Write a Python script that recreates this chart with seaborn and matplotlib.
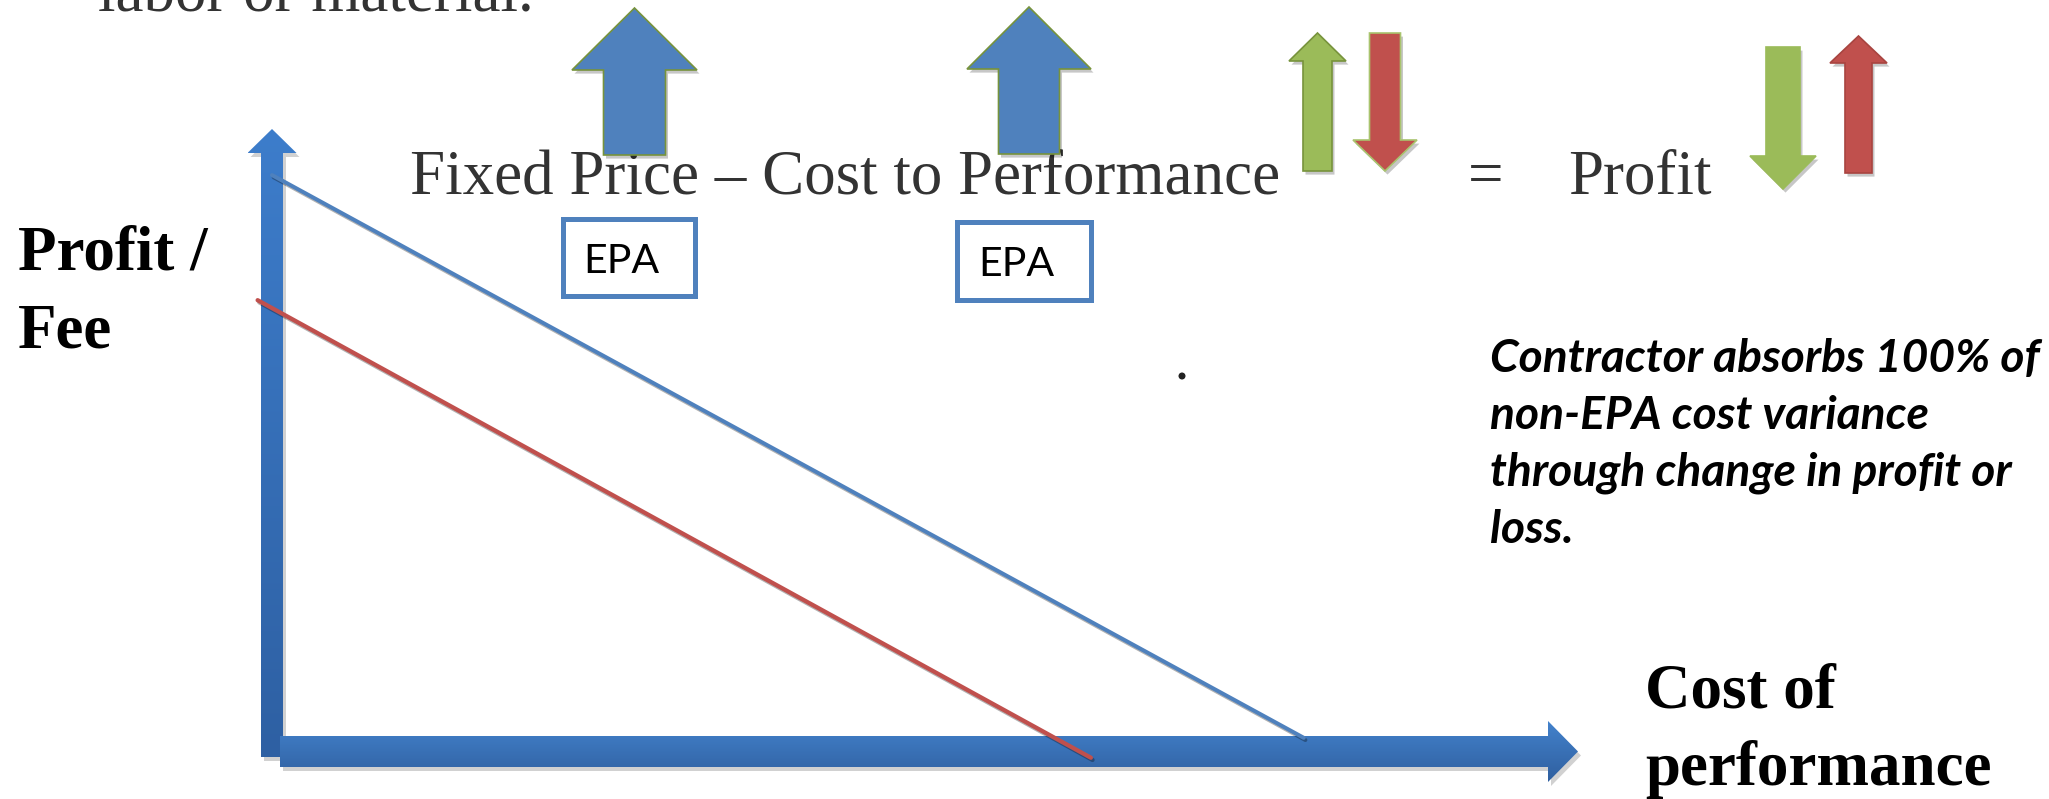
import numpy as np
import matplotlib
matplotlib.use("Agg")
import matplotlib.pyplot as plt
import matplotlib.patheffects as pe
from matplotlib.patches import Polygon, Rectangle, Circle
from matplotlib.colors import LinearSegmentedColormap
import seaborn as sns

# Profit / fee against cost of performance (arbitrary units, 0-100 on both axes)
fixed_price_cost = [0.0, 79.0]
fixed_price_profit = [92.6, 2.2]
overrun_cost = [-1.1, 62.7]
overrun_profit = [72.5, -1.0]

y_label_lines = ["Profit /", "Fee"]
x_label_lines = ["Cost of", "performance"]
equation_left = "Fixed Price \u2013 Cost to Performance"
equation_sign = "="
equation_right = "Profit"
box_label = "EPA"
note_lines = ["Contractor absorbs 100% of",
              "non-EPA cost variance",
              "through change in profit or",
              "loss."]
heading_tail = "labor or material."

BLUE = "#4F81BD"
GREEN = "#9BBB59"
RED = "#C0504D"
OLIVE = "#77933C"
TEXT_GRAY = "#333333"

W, H, DPI = 2049, 799, 100

sns.set_theme(style="white")
plt.rcParams["font.family"] = ["Liberation Serif", "DejaVu Serif"]


def pt(pixels):
    """Convert a length in pixels to points."""
    return pixels * 72.0 / DPI


fig = plt.figure(figsize=(W / DPI, H / DPI), dpi=DPI)
fig.patch.set_facecolor("white")

# Full-figure canvas in pixel units for the decorative shapes and text
canvas = fig.add_axes([0, 0, 1, 1])
canvas.set_xlim(0, W)
canvas.set_ylim(H, 0)
canvas.axis("off")

shadow = [pe.SimplePatchShadow(offset=(1.8, -2.6), shadow_rgbFace="black", alpha=0.22),
          pe.Normal()]


def vertical_block_arrow(cx, tip, head_base, end, head_half, shaft_half,
                         face, edge=None, lw=1.2):
    pts = [(cx, tip), (cx + head_half, head_base), (cx + shaft_half, head_base),
           (cx + shaft_half, end), (cx - shaft_half, end),
           (cx - shaft_half, head_base), (cx - head_half, head_base)]
    patch = Polygon(pts, closed=True, facecolor=face,
                    edgecolor=edge if edge else face, linewidth=lw,
                    joinstyle="miter", zorder=3)
    patch.set_path_effects(shadow)
    canvas.add_patch(patch)


def gradient_shape(pts, top_color, bottom_color, z):
    xs = [p[0] for p in pts]
    ys = [p[1] for p in pts]
    shade = Polygon([(x + 3, y + 4) for x, y in pts], closed=True,
                    facecolor="black", edgecolor="none", alpha=0.18, zorder=z - 0.2)
    canvas.add_patch(shade)
    patch = Polygon(pts, closed=True, facecolor="none", edgecolor="none", zorder=z)
    canvas.add_patch(patch)
    cmap = LinearSegmentedColormap.from_list("axis_fill", [top_color, bottom_color])
    grad = np.linspace(0, 1, 256).reshape(-1, 1)
    im = canvas.imshow(grad, cmap=cmap, origin="upper", aspect="auto",
                       extent=(min(xs), max(xs), max(ys), min(ys)),
                       interpolation="bilinear", zorder=z)
    im.set_clip_path(patch)


# Axis arrows
y_axis = [(272, 129), (296.5, 153), (283, 153), (283, 757),
          (261, 757), (261, 153), (247.5, 153)]
gradient_shape(y_axis, "#3D7DCB", "#2E60A3", 2)
x_axis = [(280, 736), (1548, 736), (1548, 721), (1578, 751.5),
          (1548, 782), (1548, 767), (280, 767)]
gradient_shape(x_axis, "#4382CC", "#2F5F9F", 2.1)
canvas.set_xlim(0, W)
canvas.set_ylim(H, 0)

# Chart area: origin at the corner of the axis arrows
ox, oy = 272, 751.5
tx, ty = 1578, 129
chart = fig.add_axes([ox / W, (H - oy) / H, (tx - ox) / W, (oy - ty) / H])
chart.set_xlim(0, 100)
chart.set_ylim(0, 100)
chart.axis("off")
chart.patch.set_alpha(0)

line_fx = [pe.SimpleLineShadow(offset=(1.2, -1.6), shadow_color="black", alpha=0.3),
           pe.Normal()]
sns.lineplot(x=fixed_price_cost, y=fixed_price_profit, ax=chart, color=BLUE,
             linewidth=pt(4), clip_on=False, path_effects=line_fx)
sns.lineplot(x=overrun_cost, y=overrun_profit, ax=chart, color=RED,
             linewidth=pt(4.3), clip_on=False, path_effects=line_fx)

# Equation arrows
vertical_block_arrow(634.5, 8, 70, 155, 62.5, 31, BLUE, OLIVE)
vertical_block_arrow(1029, 7, 69, 154, 62, 30.5, BLUE, OLIVE)
vertical_block_arrow(1317.5, 33, 61, 171, 28.5, 14.5, GREEN, OLIVE)
vertical_block_arrow(1385, 171, 140, 33, 32, 15.5, RED, "#A9C46E")
vertical_block_arrow(1783, 189, 156, 47, 33, 17, GREEN)
vertical_block_arrow(1858.5, 36, 63, 173, 28.5, 13.5, RED, "#A84440")

# EPA boxes
for (x0, y0, x1, y1, text_x, base) in [(560, 216, 697, 298, 583, 273),
                                       (954, 219, 1093, 302, 978, 276)]:
    canvas.add_patch(Rectangle((x0 + 2.5, y0 + 2.5), x1 - x0 - 5, y1 - y0 - 5,
                               facecolor="white", edgecolor=BLUE,
                               linewidth=pt(5), zorder=4))
    canvas.text(text_x, base, box_label, fontsize=pt(41), color="black",
                family=["Lato", "DejaVu Sans"], ha="left", va="baseline", zorder=5)

# Serif text
serif_size = pt(63)
canvas.text(98, 11, heading_tail, fontsize=serif_size, color=TEXT_GRAY,
            ha="left", va="baseline")
canvas.text(410, 194, equation_left, fontsize=serif_size, color=TEXT_GRAY,
            ha="left", va="baseline", zorder=2.5)
canvas.text(1486, 194, equation_sign, fontsize=serif_size, color=TEXT_GRAY,
            ha="center", va="baseline")
canvas.text(1568, 194, equation_right, fontsize=serif_size, color=TEXT_GRAY,
            ha="left", va="baseline")

for i, line in enumerate(y_label_lines):
    canvas.text(18, 270 + 77 * i, line, fontsize=serif_size, fontweight="bold",
                color="black", ha="left", va="baseline")
for i, line in enumerate(x_label_lines):
    canvas.text(1645, 708 + 77 * i, line, fontsize=serif_size, fontweight="bold",
                color="black", ha="left", va="baseline")

# Italic note, sized so the first line spans its column
renderer = fig.canvas.get_renderer()
note_size = pt(44)
probe = canvas.text(0, 0, note_lines[0], fontsize=note_size, fontweight="bold",
                    style="italic", family=["Lato", "DejaVu Sans"])
width_px = probe.get_window_extent(renderer).width
probe.remove()
note_size *= 549.0 / width_px
for i, line in enumerate(note_lines):
    canvas.text(1490, 372 + 57 * i, line, fontsize=note_size, fontweight="bold",
                style="italic", family=["Lato", "DejaVu Sans"], color="black",
                ha="left", va="baseline")

# Stray full stop
canvas.add_patch(Circle((1182, 376), 3.5, facecolor="#222222", edgecolor="none"))

fig.savefig("out.png", dpi=DPI, facecolor="white")
